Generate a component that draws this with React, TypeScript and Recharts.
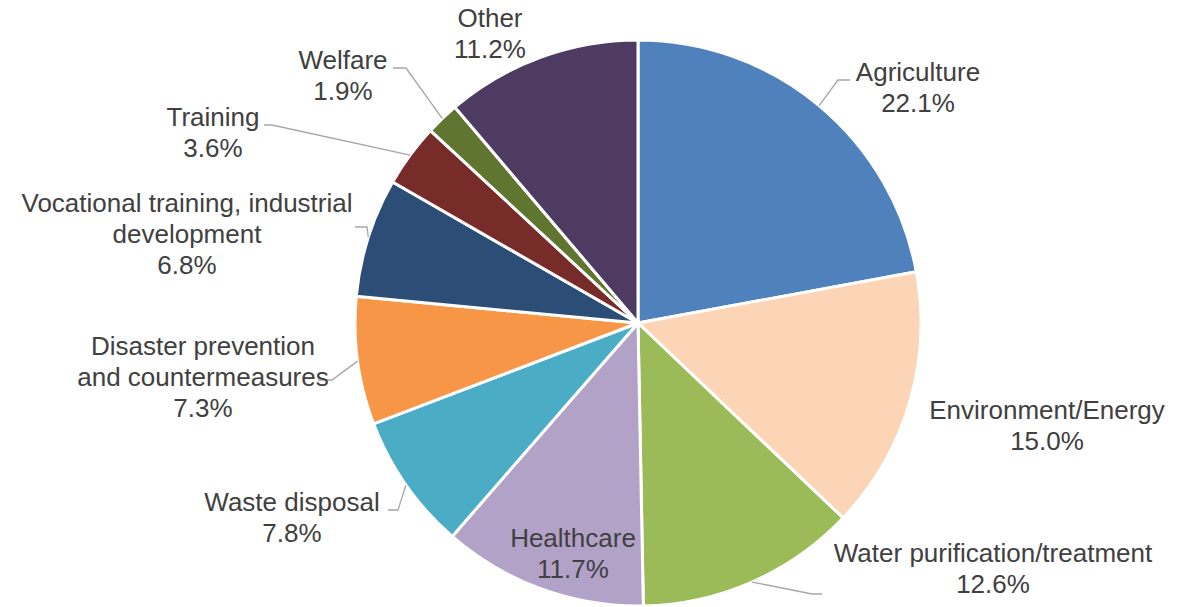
import { PieChart, Pie, Cell } from "recharts";

const categories = [
  "Agriculture",
  "Environment/Energy",
  "Water purification/treatment",
  "Healthcare",
  "Waste disposal",
  "Disaster prevention and countermeasures",
  "Vocational training, industrial development",
  "Training",
  "Welfare",
  "Other",
];
const shares = [22.1, 15.0, 12.6, 11.7, 7.8, 7.3, 6.8, 3.6, 1.9, 11.2];
const colors = [
  "#4F81BD",
  "#FBD5B5",
  "#9BBB59",
  "#B2A2C7",
  "#4BACC6",
  "#F79646",
  "#2C4D75",
  "#772C2A",
  "#5F7530",
  "#4D3B62",
];
// label text split into lines
const labelLines = [
  ["Agriculture"],
  ["Environment/Energy"],
  ["Water purification/treatment"],
  ["Healthcare"],
  ["Waste disposal"],
  ["Disaster prevention", "and countermeasures"],
  ["Vocational training, industrial", "development"],
  ["Training"],
  ["Welfare"],
  ["Other"],
];

// label placement relative to the pie centre: text first line centre, optional leader elbow + end
const labelLayout: { dx: number; dy: number; leader?: [number, number, number, number] }[] = [
  { dx: 280, dy: -251, leader: [200, -243, 212, -243] },
  { dx: 409, dy: 87 },
  { dx: 355, dy: 230, leader: [174, 271, 184, 271] },
  { dx: -65, dy: 215 },
  { dx: -346, dy: 179, leader: [-240, 187, -250, 187] },
  { dx: -435, dy: 23, leader: [-306, 57, -320, 57] },
  { dx: -451, dy: -120, leader: [-271, -96, -283, -96] },
  { dx: -425, dy: -206, leader: [-366, -198, -374, -198] },
  { dx: -295, dy: -263, leader: [-232, -255, -245, -255] },
  { dx: -148, dy: -305 },
];

const data = categories.map((name, i) => ({ name, value: shares[i] }));

const RAD = Math.PI / 180;
const LINE_H = 31;

function renderLabel(props: any) {
  const { cx, cy, midAngle, outerRadius, index, value } = props;
  const lay = labelLayout[index];
  const lines = [...labelLines[index], `${Number(value).toFixed(1)}%`];
  const ex = cx + outerRadius * Math.cos(-midAngle * RAD);
  const ey = cy + outerRadius * Math.sin(-midAngle * RAD);
  const tx = cx + lay.dx;
  const ty = cy + lay.dy;
  return (
    <g key={`lbl-${index}`}>
      {lay.leader && (
        <polyline
          points={`${ex},${ey} ${cx + lay.leader[0]},${cy + lay.leader[1]} ${cx + lay.leader[2]},${cy + lay.leader[3]}`}
          fill="none"
          stroke="#A6A6A6"
          strokeWidth={1.3}
        />
      )}
      <text
        x={tx}
        y={ty}
        textAnchor="middle"
        fill="#404040"
        fontSize={26}
        fontFamily="'Liberation Sans', Arial, sans-serif"
      >
        {lines.map((l, j) => (
          <tspan key={j} x={tx} y={ty + j * LINE_H} dominantBaseline="central">
            {l}
          </tspan>
        ))}
      </text>
    </g>
  );
}

export default function App() {
  return (
    <div style={{ position: "absolute", left: 0, top: 0, width: 1197, height: 607, background: "#fff" }}>
      <PieChart width={1197} height={607} margin={{ top: 0, right: 0, bottom: 0, left: 0 }}>
        <Pie
          data={data}
          dataKey="value"
          nameKey="name"
          cx={638}
          cy={323}
          outerRadius={283}
          startAngle={90}
          endAngle={-270}
          stroke="#ffffff"
          strokeWidth={3}
          label={renderLabel}
          labelLine={false}
          isAnimationActive={false}
        >
          {data.map((d, i) => (
            <Cell key={d.name} fill={colors[i]} />
          ))}
        </Pie>
      </PieChart>
    </div>
  );
}
